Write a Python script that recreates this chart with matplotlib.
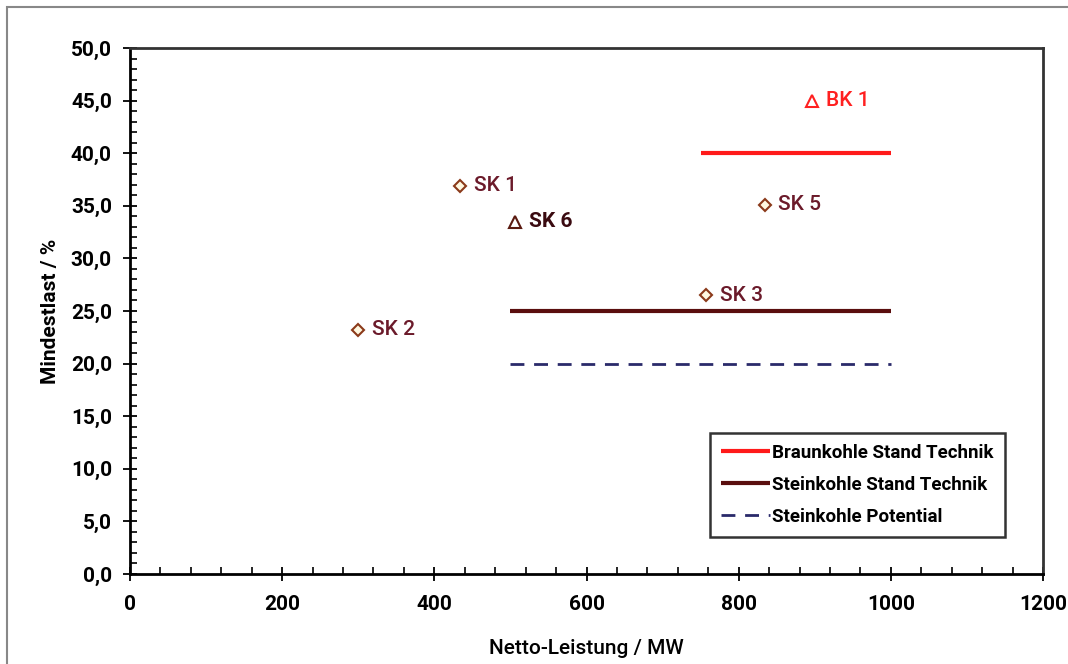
import matplotlib
matplotlib.use("Agg")
import matplotlib.pyplot as plt
from matplotlib.ticker import MultipleLocator, FuncFormatter
from matplotlib.patches import Rectangle

# Data
plant_names = ["SK 1", "SK 2", "SK 6", "SK 5", "SK 3", "BK 1"]
plant_mw = [434, 300, 506, 834, 757, 896]
plant_minload = [36.9, 23.2, 33.5, 35.1, 26.5, 45.0]
plant_markers = ["D", "D", "^", "D", "D", "^"]
plant_colors = ["#8B3A1A", "#8B3A1A", "#5A1A10", "#8B3A1A", "#8B3A1A", "#FF2020"]
label_colors = ["#6B1A2A", "#6B1A2A", "#3A0A10", "#6B1A2A", "#6B1A2A", "#FF2020"]

line_labels = ["Braunkohle Stand Technik", "Steinkohle Stand Technik", "Steinkohle Potential"]
line_x = [[750, 1000], [500, 1000], [500, 1000]]
line_y = [[40.0, 40.0], [25.0, 25.0], [20.0, 20.0]]

plt.rcParams['font.family'] = ['Roboto', 'DejaVu Sans']

fig = plt.figure(figsize=(10.68, 6.64), dpi=100)
ax = fig.add_axes([130/1068, 1-574/664, (1043-130)/1068, (574-48)/664])

# outer frame
fig.patches.append(Rectangle((7/1068, -0.1), 1.2, 1.1 - 7/664, transform=fig.transFigure,
                             fill=False, edgecolor="#888888", linewidth=1.5))

styles = [dict(color="#FF1A1A", lw=3, ls="-"),
          dict(color="#5A0E0E", lw=3, ls="-"),
          dict(color="#2A2A6A", lw=2, ls=(0, (5, 3.5)))]
for xs, ys, lab, st in zip(line_x, line_y, line_labels, styles):
    ax.plot(xs, ys, label=lab, solid_capstyle="butt", **st)

for n, x, y, m, c, lc in zip(plant_names, plant_mw, plant_minload, plant_markers, plant_colors, label_colors):
    ms = 6 if m == "D" else 8
    ax.plot([x], [y], marker=m, markersize=ms, markerfacecolor="none" if m == "^" else "#FFF8E0",
            markeredgecolor=c, markeredgewidth=1.5, linestyle="none")
    ax.annotate(n, (x, y), xytext=(10, 0), textcoords="offset points", va="center", ha="left",
                fontsize=15, color=lc, fontweight="bold" if n == "SK 6" else "medium")

ax.set_xlim(0, 1200)
ax.set_ylim(0, 50)
ax.xaxis.set_major_locator(MultipleLocator(200))
ax.xaxis.set_minor_locator(MultipleLocator(40))
ax.yaxis.set_major_locator(MultipleLocator(5))
ax.yaxis.set_minor_locator(MultipleLocator(1))
ax.yaxis.set_major_formatter(FuncFormatter(lambda v, p: f"{v:.1f}".replace(".", ",")))
ax.xaxis.set_major_formatter(FuncFormatter(lambda v, p: f"{int(v)}"))
ax.tick_params(which="major", direction="inout", length=10, width=1.3, labelsize=15)
ax.tick_params(axis="y", which="major", pad=8)
ax.tick_params(axis="x", which="major", pad=10)
ax.tick_params(which="minor", direction="in", length=5, width=1.2)
ax.tick_params(top=False, right=False, which="both")
for lab in ax.get_xticklabels() + ax.get_yticklabels():
    lab.set_fontweight("bold")
for s in ["left", "bottom"]:
    ax.spines[s].set_linewidth(2)
    ax.spines[s].set_color("black")
for s in ["top", "right"]:
    ax.spines[s].set_linewidth(2)
    ax.spines[s].set_color("#333333")

ax.set_xlabel("Netto-Leistung / MW", fontsize=15, fontweight="medium", labelpad=18)
ax.set_ylabel("Mindestlast / %", fontsize=15, fontweight="bold", labelpad=8)

leg = ax.legend(loc="lower right", bbox_to_anchor=(0.958, 0.07), frameon=True,
                fancybox=False, edgecolor="black", fontsize=13.5, handlelength=2.6, handletextpad=0.1,
                borderpad=0.6, labelspacing=0.75, borderaxespad=0)
leg.get_frame().set_linewidth(1.8)
for t in leg.get_texts():
    t.set_fontweight("bold")

fig.savefig("out.png", dpi=100)
